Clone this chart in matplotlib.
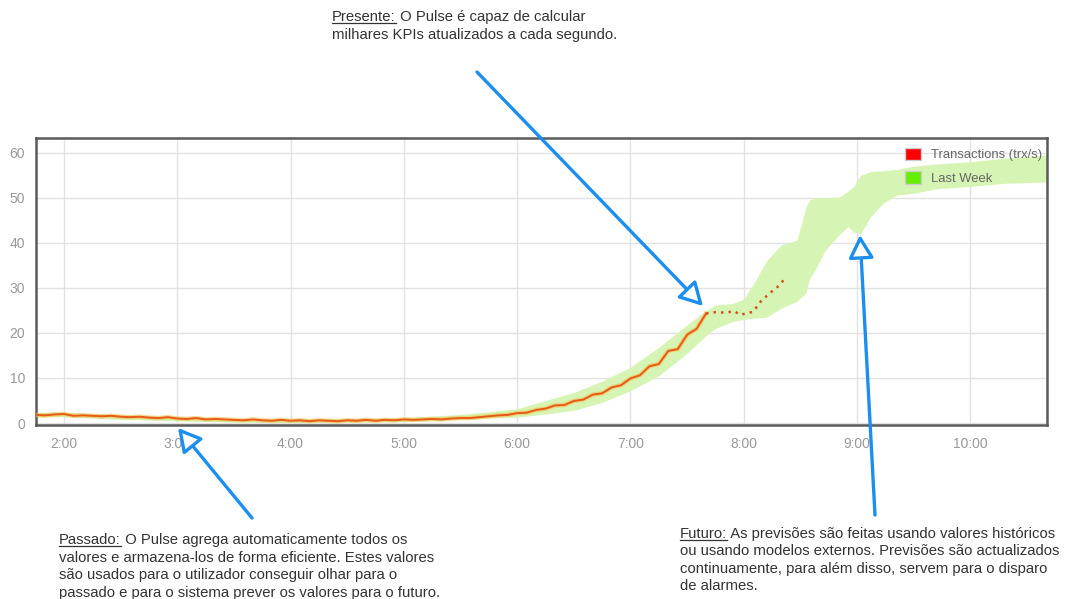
import numpy as np
import matplotlib.pyplot as plt
from matplotlib.patches import Patch, FancyArrowPatch
from matplotlib.ticker import FuncFormatter

plt.rcParams['font.family'] = ['Liberation Sans', 'DejaVu Sans']

# Transactions (trx/s): uma leitura a cada 5 minutos, desde as 1:45
hora_inicio = 1.75
passo = 5 / 60
transacoes = [1.8, 1.7, 1.9, 2.0, 1.6, 1.7, 1.6, 1.5, 1.6, 1.4, 1.3, 1.4,
              1.2, 1.1, 1.3, 1.0, 0.9, 1.1, 0.8, 0.9, 0.8, 0.7, 0.6, 0.8,
              0.6, 0.5, 0.7, 0.5, 0.6, 0.4, 0.6, 0.5, 0.4, 0.6, 0.5, 0.7,
              0.5, 0.7, 0.6, 0.8, 0.7, 0.8, 0.9, 0.8, 1.0, 1.1, 1.1, 1.3,
              1.5, 1.7, 1.8, 2.2, 2.3, 2.9, 3.2, 3.9, 4.0, 4.9, 5.2, 6.3,
              6.6, 7.9, 8.4, 9.9, 10.6, 12.6, 13.1, 16.0, 16.4, 19.6, 20.9, 24.3]
horas_trx = hora_inicio + passo * np.arange(len(transacoes))

# previsao (pontilhado)
horas_prev = [7.667, 7.75, 7.833, 7.917, 7.97, 8.0, 8.083, 8.15, 8.233, 8.317, 8.37]
previsao = [24.3, 24.6, 24.5, 24.8, 24.0, 24.2, 24.7, 27.0, 28.9, 30.6, 32.4]

# Last Week (banda)
horas_semana = [1.75, 2.0, 2.5, 3.0, 3.5, 4.0, 4.5, 5.0, 5.5, 5.75, 6.0, 6.25,
                6.5, 6.75, 7.0, 7.25, 7.5, 7.67, 7.75, 7.9, 8.0, 8.1, 8.2,
                8.33, 8.47, 8.55, 8.58, 8.63, 8.72, 8.85, 8.92, 8.97, 9.03,
                9.12, 9.23, 9.35, 9.5, 9.7, 10.0, 10.3, 10.68]
semana_min = [1.3, 1.4, 0.8, 0.5, 0.2, 0.1, 0.2, 0.3, 0.8, 1.1, 1.3, 2.0,
              2.8, 4.6, 7.2, 10.5, 15.5, 19.5, 21.0, 22.5, 23.0, 23.3, 23.5,
              25.5, 27.0, 29.0, 32.0, 34.0, 38.4, 42.0, 43.6, 42.4, 42.0,
              45.8, 48.8, 50.6, 51.0, 52.0, 52.5, 53.2, 53.5]
semana_max = [2.3, 2.4, 1.8, 1.4, 1.0, 0.9, 1.0, 1.2, 1.9, 2.5, 3.2, 5.0,
              6.8, 9.3, 12.4, 16.8, 21.8, 25.0, 26.2, 26.5, 27.5, 31.5, 36.0,
              39.5, 40.6, 48.0, 49.5, 50.0, 50.0, 50.2, 51.5, 52.5, 55.0,
              55.8, 56.0, 56.3, 57.0, 57.5, 58.0, 58.8, 59.5]

ticks_horas = [2, 3, 4, 5, 6, 7, 8, 9, 10]
ticks_valores = [0, 10, 20, 30, 40, 50, 60]

fig = plt.figure(figsize=(10.71, 5.99), dpi=100)
ax = fig.add_axes([36 / 1071, 1 - 425 / 599, 1011 / 1071, 287 / 599])

ax.fill_between(horas_semana, semana_min, semana_max, color='#d6f5b4', lw=0, zorder=2)
ax.plot(horas_trx, transacoes, color='#f3c04a', lw=3.2, alpha=0.6, zorder=3)
ax.plot(horas_trx, transacoes, color='#e8591a', lw=1.4, zorder=4)
ax.plot(horas_prev, previsao, color='#d4501c', lw=1.8, linestyle=(0, (1, 2)), zorder=4)

ax.set_xlim(1.753, 10.676)
ax.set_ylim(-0.44, 63.26)
ax.set_xticks(ticks_horas)
ax.set_yticks(ticks_valores)
ax.xaxis.set_major_formatter(FuncFormatter(lambda v, p: '%d:00' % v))
ax.grid(True, color='#e2e2e2', lw=1, zorder=0)
ax.set_axisbelow(True)
ax.tick_params(length=0, colors='#999999', labelsize=10)
ax.tick_params(axis='x', pad=9)
ax.tick_params(axis='y', pad=8)
for s in ax.spines.values():
    s.set_color('#5a5a5a')
    s.set_linewidth(1.8)

leg = ax.legend(handles=[Patch(fc='#ff0000', ec='#cccccc', label='Transactions (trx/s)'),
                         Patch(fc='#66ee00', ec='#cccccc', label='Last Week')],
                loc='upper right', bbox_to_anchor=(1.0, 0.985), frameon=False,
                fontsize=9.4, handlelength=1.2, handleheight=1.1, handletextpad=0.75,
                labelspacing=0.75, borderaxespad=0.0)
for t in leg.get_texts():
    t.set_color('#666666')

# camada por cima para as anotacoes (coordenadas em pixels)
ov = fig.add_axes([0, 0, 1, 1], zorder=10)
ov.set_xlim(0, 1071)
ov.set_ylim(599, 0)
ov.axis('off')
ov.patch.set_alpha(0)

azul = '#1b8ef0'
setas = [((477, 72), (703, 306)),
         ((252, 518), (178, 428)),
         ((875, 515), (860, 235))]
for ini, fim in setas:
    ov.add_patch(FancyArrowPatch(ini, fim, arrowstyle='-|>,head_length=1.0,head_width=0.55',
                                 mutation_scale=14, lw=2.4, ec=azul, fc='white',
                                 shrinkA=0, shrinkB=0, clip_on=False))

renderer = fig.canvas.get_renderer()


def escreve(x, y, titulo, linhas, esp=17.7):
    t = ov.text(x, y, titulo, fontsize=10.7, color='#333333', va='baseline')
    w = t.get_window_extent(renderer).width
    ov.plot([x, x + w], [y + 2, y + 2], color='#333333', lw=0.9)
    ov.text(x + w, y, linhas[0], fontsize=10.7, color='#333333', va='baseline')
    for i, l in enumerate(linhas[1:]):
        ov.text(x, y + esp * (i + 1), l, fontsize=10.7, color='#333333', va='baseline')


escreve(332, 21, 'Presente:', [' O Pulse é capaz de calcular',
                               'milhares KPIs atualizados a cada segundo.'], esp=18.5)
escreve(59, 544, 'Passado:', [' O Pulse agrega automaticamente todos os',
                              'valores e armazena-los de forma eficiente. Estes valores',
                              'são usados para o utilizador conseguir olhar para o',
                              'passado e para o sistema prever os valores para o futuro.'])
escreve(680, 538, 'Futuro:', [' As previsões são feitas usando valores históricos',
                              'ou usando modelos externos. Previsões são actualizados',
                              'continuamente, para além disso, servem para o disparo',
                              'de alarmes.'], esp=17.4)

fig.savefig('out.png', dpi=100)
